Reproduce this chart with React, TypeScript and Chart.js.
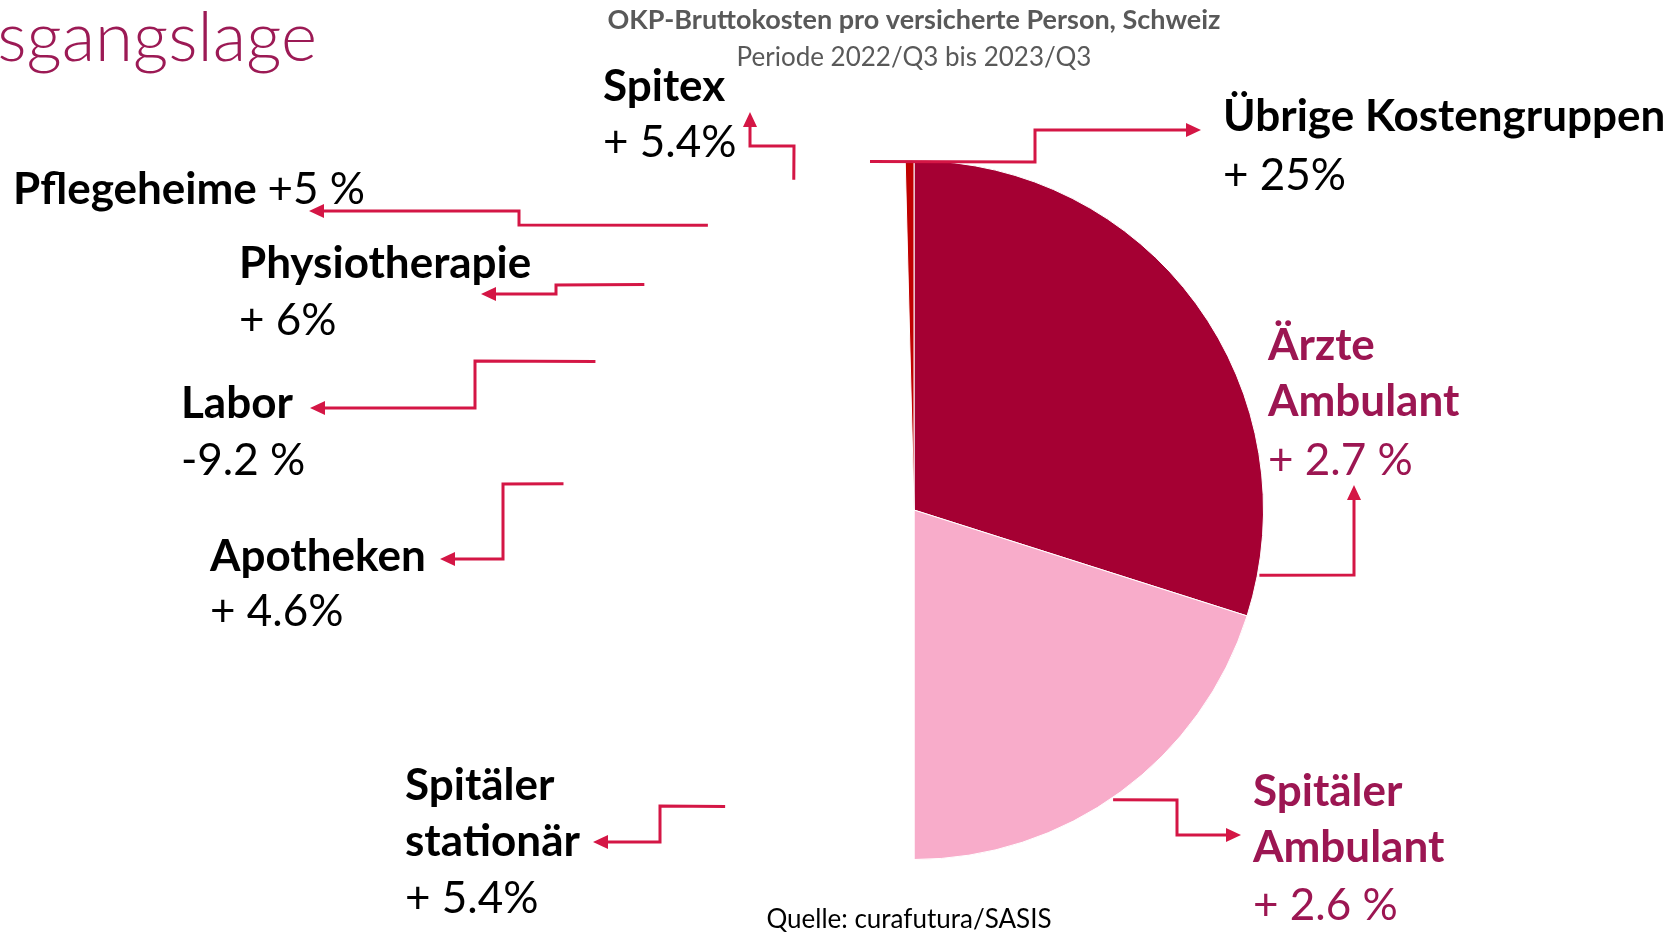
import React, { useEffect, useRef } from "react";
import { Chart, registerables } from "chart.js";

Chart.register(...registerables);

// ---- data ----
const categories = [
  "Ärzte Ambulant",
  "Spitäler Ambulant",
  "Spitäler stationär",
  "Apotheken",
  "Labor",
  "Physiotherapie",
  "Pflegeheime",
  "Spitex",
  "Übrige Kostengruppen",
];
// estimated share of costs (%) – only the right half is visible in the source
const shares = [29.9, 20.1, 18.5, 11.0, 4.0, 4.0, 6.0, 6.1, 0.4];
// change vs. previous period
const changes = ["+ 2.7 %", "+ 2.6 %", "+ 5.4%", "+ 4.6%", "-9.2 %", "+ 6%", "+5 %", "+ 5.4%", "+ 25%"];
const sliceColors = [
  "#A50033",
  "#F8ACCA",
  "#FFFFFF",
  "#FFFFFF",
  "#FFFFFF",
  "#FFFFFF",
  "#FFFFFF",
  "#FFFFFF",
  "#C00000",
];
const titleLine1 = "OKP-Bruttokosten pro versicherte Person, Schweiz";
const titleLine2 = "Periode 2022/Q3 bis 2023/Q3";
const sourceText = "Quelle: curafutura/SASIS";
const slideTitle = "Ausgangslage";

// ---- layout of the callouts (annotation styling only) ----
type Callout = {
  nameLines: string[];
  inline?: boolean;
  x: number;
  baselines: number[];
  color: string;
  angle: number; // where leader starts on the pie (deg, clockwise from top)
  path: [number, number][]; // subsequent elbow points, last one = arrow tip
};

const BLACK = "#000000";
const MAGENTA = "#9C1652";
const callouts: Callout[] = [
  { nameLines: ["Ärzte", "Ambulant"], x: 1268, baselines: [360, 416, 475], color: MAGENTA, angle: 100.7, path: [[1354, 575], [1354, 485]] },
  { nameLines: ["Spitäler", "Ambulant"], x: 1253, baselines: [806, 862, 920], color: MAGENTA, angle: 145.5, path: [[1177, 800], [1177, 835], [1241, 835]] },
  { nameLines: ["Spitäler", "stationär"], x: 405, baselines: [800, 856, 913], color: BLACK, angle: 212.5, path: [[660, 808], [660, 842], [593, 842]] },
  { nameLines: ["Apotheken"], x: 210, baselines: [571, 626], color: BLACK, angle: 274.3, path: [[503, 483], [503, 559], [440, 559]] },
  { nameLines: ["Labor"], x: 181, baselines: [418, 475], color: BLACK, angle: 295, path: [[475, 360], [475, 408], [310, 408]] },
  { nameLines: ["Physiotherapie"], x: 239, baselines: [278, 335], color: BLACK, angle: 309.9, path: [[556, 283], [556, 294], [481, 294]] },
  { nameLines: ["Pflegeheime"], inline: true, x: 13, baselines: [204], color: BLACK, angle: 324.1, path: [[519, 224], [519, 211], [309, 211]] },
  { nameLines: ["Spitex"], x: 603, baselines: [101, 157], color: BLACK, angle: 340, path: [[793, 146], [750, 146], [750, 112]] },
  { nameLines: ["Übrige Kostengruppen"], x: 1223, baselines: [131, 190], color: BLACK, angle: 355, path: [[1035, 161], [1035, 130], [1201, 130]] },
];

const FONT = "Lato, 'Open Sans', sans-serif";
const LABEL_SIZE = 44;
const ARROW = "#D41645";

function drawArrow(ctx: CanvasRenderingContext2D, pts: [number, number][]) {
  const head = 15;
  const half = 7;
  const n = pts.length;
  const [tx, ty] = pts[n - 1];
  const [px, py] = pts[n - 2];
  const len = Math.hypot(tx - px, ty - py) || 1;
  const ux = (tx - px) / len;
  const uy = (ty - py) / len;
  ctx.save();
  ctx.strokeStyle = ARROW;
  ctx.fillStyle = ARROW;
  ctx.lineWidth = 3;
  ctx.lineJoin = "miter";
  ctx.beginPath();
  ctx.moveTo(pts[0][0], pts[0][1]);
  for (let i = 1; i < n - 1; i++) ctx.lineTo(pts[i][0], pts[i][1]);
  ctx.lineTo(tx - ux * head * 0.8, ty - uy * head * 0.8);
  ctx.stroke();
  ctx.beginPath();
  ctx.moveTo(tx, ty);
  ctx.lineTo(tx - ux * head - uy * half, ty - uy * head + ux * half);
  ctx.lineTo(tx - ux * head + uy * half, ty - uy * head - ux * half);
  ctx.closePath();
  ctx.fill();
  ctx.restore();
}

const calloutPlugin = {
  id: "callouts",
  afterDraw(chart: any) {
    const ctx: CanvasRenderingContext2D = chart.ctx;
    const arc = chart.getDatasetMeta(0).data[0];
    const cx = arc.x;
    const cy = arc.y;
    const r = arc.outerRadius;

    ctx.save();
    ctx.textBaseline = "alphabetic";

    // slide title (partially cut at the left edge)
    ctx.font = `300 69px ${FONT}`;
    ctx.fillStyle = "#9C1A55";
    ctx.textAlign = "right";
    ctx.fillText(slideTitle, 317, 61);

    // chart titles
    ctx.textAlign = "center";
    ctx.fillStyle = "#595959";
    ctx.font = `bold 27px ${FONT}`;
    ctx.fillText(titleLine1, cx, 29);
    ctx.font = `26px ${FONT}`;
    ctx.fillText(titleLine2, cx, 66);

    // source
    ctx.fillStyle = "#000000";
    ctx.font = `26px ${FONT}`;
    ctx.fillText(sourceText, 909, 928);

    ctx.textAlign = "left";
    callouts.forEach((c, i) => {
      ctx.fillStyle = c.color;
      if (c.inline) {
        ctx.font = `bold ${LABEL_SIZE}px ${FONT}`;
        ctx.fillText(c.nameLines[0], c.x, c.baselines[0]);
        const w = ctx.measureText(c.nameLines[0] + " ").width;
        ctx.font = `${LABEL_SIZE}px ${FONT}`;
        ctx.fillText(changes[i], c.x + w, c.baselines[0]);
      } else {
        ctx.font = `bold ${LABEL_SIZE}px ${FONT}`;
        c.nameLines.forEach((t, k) => ctx.fillText(t, c.x, c.baselines[k]));
        ctx.font = `${LABEL_SIZE}px ${FONT}`;
        ctx.fillText(changes[i], c.x, c.baselines[c.nameLines.length]);
      }
      const a = (c.angle * Math.PI) / 180;
      const rr = r + 2;
      const start: [number, number] = [cx + rr * Math.sin(a), cy - rr * Math.cos(a)];
      if (i === 8) {
        start[0] = cx - 44;
        start[1] = cy - r + 1;
      }
      // keep the first leader segment axis-aligned
      const first: [number, number] = [c.path[0][0], c.path[0][1]];
      if (Math.abs(first[0] - start[0]) > Math.abs(first[1] - start[1])) first[1] = Math.round(start[1]);
      else first[0] = Math.round(start[0]);
      const rest = c.path.slice(1).map((p, k) => {
        const q: [number, number] = [p[0], p[1]];
        if (k === 0) {
          // the second segment continues from the adjusted elbow
          if (p[0] === c.path[0][0]) q[0] = first[0];
          if (p[1] === c.path[0][1]) q[1] = first[1];
        }
        return q;
      });
      drawArrow(ctx, [start, first, ...rest]);
    });
    ctx.restore();
  },
};

export default function App() {
  const ref = useRef<HTMLCanvasElement | null>(null);
  useEffect(() => {
    if (!ref.current) return;
    const chart = new Chart(ref.current, {
      type: "pie",
      data: {
        labels: categories,
        datasets: [
          {
            data: shares,
            backgroundColor: sliceColors,
            borderColor: "#FFFFFF",
            borderWidth: 1,
          },
        ],
      },
      options: {
        responsive: false,
        animation: false,
        devicePixelRatio: 1,
        layout: { padding: { left: 564, right: 409, top: 160, bottom: 72 } },
        plugins: {
          legend: { display: false },
          tooltip: { enabled: false },
          title: { display: false },
        },
      },
      plugins: [calloutPlugin],
    });
    return () => chart.destroy();
  }, []);
  return (
    <div style={{ position: "fixed", left: 0, top: 0, width: 1673, height: 932, background: "#fff" }}>
      <canvas ref={ref} width={1673} height={932} style={{ width: 1673, height: 932 }} />
    </div>
  );
}
